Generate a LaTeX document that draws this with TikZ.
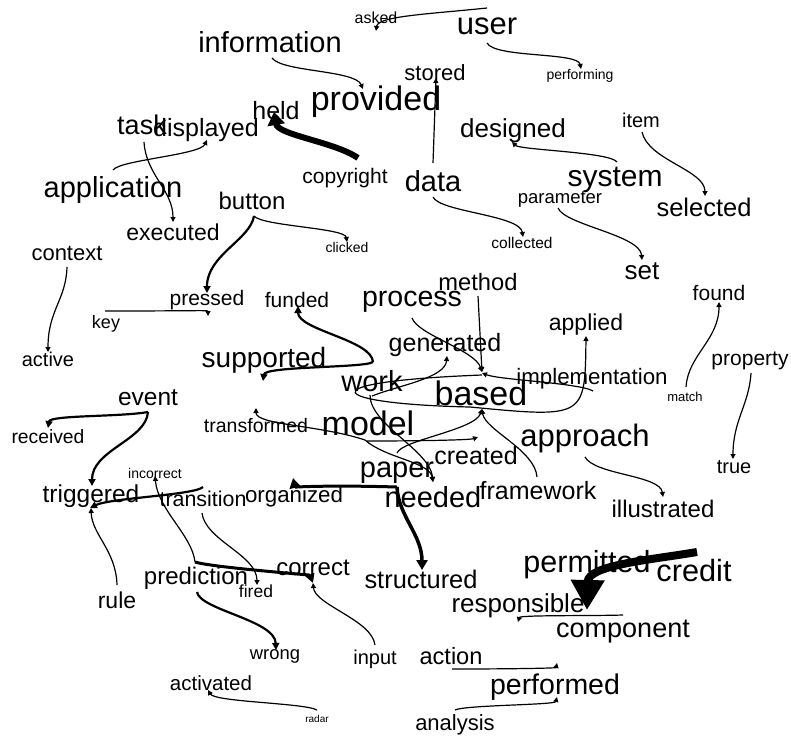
\documentclass[tikz,border=0pt]{standalone}
\usepackage{fontspec}
\setmainfont{Liberation Sans}
\usetikzlibrary{arrows.meta,calc}

\begin{document}
\begin{tikzpicture}[x=1pt, y=-1pt,
    word/.style={inner sep=0pt, font=\fontsize{#1}{#1}\selectfont},
    link/.style={line width=1.2pt, -{Triangle[length=5pt,width=5pt]}},
    link2/.style={line width=2.2pt, -{Triangle[length=7pt,width=7pt]}},
    link3/.style={line width=3pt, -{Triangle[length=9pt,width=9pt]}}]
    \useasboundingbox (0,0) rectangle (791,736);

    \node[word=16] (asked) at (376,18) {asked};
    \node[word=31] (user) at (487,26) {user};
    \node[word=29] (information) at (270,42) {information};
    \node[word=34] (provided) at (376,102) {provided};
    \node[word=22] (stored) at (435,73) {stored};
    \node[word=14] (performing) at (580,76) {performing};
    \node[word=25] (held) at (276,111) {held};
    \node[word=27] (task) at (142,125) {task};
    \node[word=25] (displayed) at (206,130) {displayed};
    \node[word=21] (copyright) at (345,178) {copyright};
    \node[word=29] (data) at (433,181) {data};
    \node[word=26] (designed) at (513,131) {designed};
    \node[word=20] (item) at (641,120) {item};
    \node[word=30] (system) at (615,180) {system};
    \node[word=25.5] (selected) at (704,207) {selected};
    \node[word=18.5] (parameter) at (560,199) {parameter};
    \node[word=15.5] (collected) at (522,243) {collected};
    \node[word=29] (application) at (113,190) {application};
    \node[word=24] (button) at (252,201) {button};
    \node[word=23] (executed) at (173,232) {executed};
    \node[word=14] (clicked) at (347,247) {clicked};
    \node[word=22] (context) at (67,253) {context};
    \node[word=26] (set) at (642,271) {set};
    \node[word=21] (pressed) at (207,300) {pressed};
    \node[word=21] (funded) at (297,300) {funded};
    \node[word=18] (key) at (106,324) {key};
    \node[word=28.5] (process) at (412,302) {process};
    \node[word=23.7] (method) at (478,282) {method};
    \node[word=21] (found) at (719,293) {found};
    \node[word=23] (applied) at (586,325) {applied};
    \node[word=25] (generated) at (445,345) {generated};
    \node[word=28] (supported) at (264,360) {supported};
    \node[word=20] (active) at (48,359) {active};
    \node[word=29] (work) at (372,381) {work};
    \node[word=22.3] (implementation) at (592,379) {implementation};
    \node[word=34] (based) at (481,393) {based};
    \node[word=13] (match) at (685,397) {match};
    \node[word=21] (property) at (750,361) {property};
    \node[word=24.5] (event) at (148,398) {event};
    \node[word=34] (model) at (368,423) {model};
    \node[word=19.5] (transformed) at (256,426) {transformed};
    \node[word=19.3] (received) at (48,437) {received};
    \node[word=31] (approach) at (585,438) {approach};
    \node[word=20] (true) at (734,467) {true};
    \node[word=25] (created) at (476,456) {created};
    \node[word=29] (paper) at (397,473) {paper};
    \node[word=29] (needed) at (433,497) {needed};
    \node[word=25] (framework) at (538,491) {framework};
    \node[word=14] (incorrect) at (155,473) {incorrect};
    \node[word=24.5] (triggered) at (91,496) {triggered};
    \node[word=21.4] (transition) at (203,499) {transition};
    \node[word=22.3] (organized) at (294,497) {organized};
    \node[word=24] (illustrated) at (663,509) {illustrated};
    \node[word=30.5] (permitted) at (587,565) {permitted};
    \node[word=30.7] (credit) at (694,571) {credit};
    \node[word=24] (correct) at (313,568) {correct};
    \node[word=24] (prediction) at (196,578) {prediction};
    \node[word=25.4] (structured) at (421,579) {structured};
    \node[word=17.5] (fired) at (256,591) {fired};
    \node[word=23] (rule) at (117,600) {rule};
    \node[word=26] (responsible) at (518,606) {responsible};
    \node[word=27] (component) at (623,632) {component};
    \node[word=18.4] (wrong) at (275,656) {wrong};
    \node[word=20] (input) at (375,659) {input};
    \node[word=23.6] (action) at (451,656) {action};
    \node[word=20.5] (activated) at (211,683) {activated};
    \node[word=28.5] (performed) at (555,687) {performed};
    \node[word=10] (radar) at (317,719) {radar};
    \node[word=22] (analysis) at (455,725) {analysis};

    \draw[link] ($(user)+(0,-18)$) .. controls (430,14) and (378,16) .. ($(asked)+(0,13)$);
    \draw[link] ($(information)+(2,16)$) .. controls (282,72) and (355,70) .. ($(provided)+(-13,-13)$);
    \draw[link] ($(user)+(0,17)$) .. controls (495,58) and (578,52) .. ($(performing)+(1,-7)$);
    \draw[link] ($(data)+(0,-18)$) -- ($(stored)+(1,5)$);
    \draw[line width=6pt, -{Triangle[length=13pt,width=17pt]}] ($(copyright)+(13,-20)$) .. controls (335,142) and (278,135) .. ($(held)+(-2,1)$);
    \draw[link] ($(application)+(0,-20)$) .. controls (120,160) and (200,155) .. ($(displayed)+(1,10)$);
    \draw[link] ($(task)+(2,17)$) .. controls (146,175) and (173,190) .. ($(executed)+(0,-10)$);
    \draw[link] ($(button)+(2,15)$) .. controls (262,226) and (345,228) .. ($(clicked)+(0,-5)$);
    \draw[link2] ($(button)+(2,15)$) .. controls (250,240) and (207,255) .. ($(pressed)+(0,-7)$);
    \draw[link] ($(system)+(2,-18)$) .. controls (610,152) and (520,150) .. ($(designed)+(-1,11)$);
    \draw[link] ($(item)+(1,12)$) .. controls (648,160) and (705,170) .. ($(selected)+(1,-11)$);
    \draw[link] ($(data)+(0,16)$) .. controls (440,212) and (520,215) .. ($(collected)+(1,-6)$);
    \draw[link] ($(parameter)+(-2,9)$) .. controls (565,225) and (640,235) .. ($(set)+(0,-11)$);
    \draw[link] ($(context)+(0,14)$) .. controls (66,300) and (48,310) .. ($(active)+(0,-7)$);
    \draw[link] ($(key)+(-1,-13)$) .. controls (200,311) and (208,310) .. ($(pressed)+(1,16)$);
    \draw[link2] ($(work)+(1,-19)$) .. controls (372,340) and (298,330) .. ($(funded)+(1,6)$);
    \draw[link2] ($(work)+(1,-19)$) .. controls (365,368) and (265,366) .. ($(supported)+(-1,21)$);
    \draw[link] ($(method)+(0,14)$) -- ($(based)+(1,-21)$);
    \draw[link] ($(process)+(0,16)$) .. controls (418,335) and (475,350) .. ($(based)+(1,-21)$);
    \draw[link] ($(implementation)+(1,12)$) .. controls (580,383) and (500,380) .. ($(based)+(1,-20)$);
    \draw[link] ($(based)+(1,-18)$) .. controls (300,382) and (330,404) .. (470,407) .. controls (585,418) and (585,418) .. ($(applied)+(0,11)$);
    \draw[link] ($(work)+(0,15)$) .. controls (400,385) and (445,378) .. ($(generated)+(2,11)$);
    \draw[link] ($(paper)+(0,-20)$) .. controls (402,440) and (475,430) .. ($(based)+(1,16)$);
    \draw[link] ($(framework)+(-1,-14)$) .. controls (535,450) and (485,430) .. ($(based)+(1,16)$);
    \draw[link] ($(model)+(-1,18)$) .. controls (420,441) and (470,440) .. ($(created)+(2,-19)$);
    \draw[link] ($(model)+(-3,17)$) .. controls (320,425) and (256,425) .. ($(transformed)+(0,-18)$);
    \draw[link] ($(model)+(-3,17)$) .. controls (385,458) and (430,462) .. ($(needed)+(0,-15)$);
    \draw[link] ($(work)+(-2,14)$) .. controls (370,425) and (430,450) .. ($(needed)+(0,-15)$);
    \draw[line width=3pt, -{Triangle[length=10pt,width=11pt]}] ($(needed)+(-36,-10)$) .. controls (330,485) and (295,487) .. ($(organized)+(-1,-19)$);
    \draw[line width=3.5pt, -{Triangle[length=10pt,width=11pt]}] ($(needed)+(-36,-10)$) .. controls (398,515) and (422,535) .. ($(structured)+(1,-9)$);
    \draw[link] ($(approach)+(0,19)$) .. controls (595,475) and (660,475) .. ($(illustrated)+(0,-12)$);
    \draw[link] ($(property)+(1,12)$) .. controls (749,405) and (733,420) .. ($(true)+(-1,-8)$);
    \draw[link] ($(match)+(1,-10)$) .. controls (688,355) and (719,340) .. ($(found)+(0,9)$);
    \draw[link2] ($(event)+(0,14)$) .. controls (120,417) and (50,415) .. ($(received)+(0,-9)$);
    \draw[link2] ($(event)+(0,14)$) .. controls (146,440) and (92,450) .. ($(triggered)+(1,-10)$);
    \draw[link2] ($(transition)+(0,-12)$) .. controls (195,495) and (110,498) .. ($(triggered)+(-1,12)$);
    \draw[link] ($(rule)+(0,-15)$) .. controls (116,550) and (92,535) .. ($(triggered)+(0,12)$);
    \draw[link] ($(prediction)+(-1,-16)$) .. controls (192,535) and (158,510) .. ($(incorrect)+(0,3)$);
    \draw[link3] ($(prediction)+(-1,-16)$) .. controls (210,567) and (310,575) .. ($(correct)+(0,15)$);
    \draw[link] ($(input)+(0,-14)$) .. controls (372,620) and (315,605) .. ($(correct)+(0,15)$);
    \draw[link] ($(transition)+(-1,14)$) .. controls (205,540) and (257,555) .. ($(fired)+(1,-6)$);
    \draw[link2] ($(prediction)+(1,14)$) .. controls (200,610) and (275,620) .. ($(wrong)+(1,-6)$);
    \draw[link] ($(radar)+(0,-9)$) .. controls (305,703) and (215,702) .. ($(activated)+(-3,7)$);
    \draw[line width=8pt, -{Triangle[length=30pt,width=32pt]}] ($(credit)+(3,-19)$) .. controls (650,560) and (588,565) .. ($(responsible)+(69,4)$);
    \draw[link] ($(component)+(0,-17)$) .. controls (590,616) and (520,615) .. ($(responsible)+(0,16)$);
    \draw[link] ($(action)+(1,13)$) .. controls (520,669) and (556,668) .. ($(performed)+(2,-24)$);
    \draw[link] ($(analysis)+(0,-15)$) .. controls (465,705) and (555,705) .. ($(performed)+(2,10)$);
\end{tikzpicture}
\end{document}
